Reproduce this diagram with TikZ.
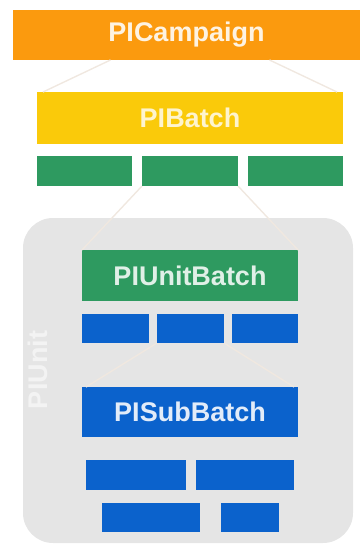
\documentclass[tikz,border=0pt]{standalone}
\usepackage{fontspec}
\setmainfont{Liberation Sans}
\usepackage{tikz}
\usetikzlibrary{arrows,shapes,positioning}
\definecolor{campOrange}{HTML}{FB9A0E}
\definecolor{batchYellow}{HTML}{FACA0A}
\definecolor{unitGreen}{HTML}{2E9A60}
\definecolor{subBlue}{HTML}{0B62CC}
\definecolor{unitGray}{HTML}{E5E5E5}
\definecolor{linkLine}{HTML}{F0E8E0}

\begin{document}
\begin{tikzpicture}[x=1pt,y=-1pt]
            \tikzstyle{every node}+=[inner sep=0pt,outer sep=0pt]
            \tikzstyle{bigbox}=[rectangle,font=\fontsize{27}{27}\selectfont\bfseries]
            \tikzstyle{smallbox}=[rectangle,minimum height=30pt]
            \tikzstyle{link}=[draw=linkLine,line width=1.4pt]
            \useasboundingbox (0,0) rectangle (362,550);
            % outer unit area
            \node (unit) [fill=unitGray,rounded corners=30pt,minimum width=330pt,minimum height=325pt] at (188,380.5) {};
            \node (unitlbl) [rotate=90,text=white!55!unitGray,font=\fontsize{27}{27}\selectfont\bfseries] at (38,370) {PIUnit};
            % campaign and batch
            \node (camp) [bigbox,fill=campOrange,text=white!88!campOrange,minimum width=347pt,minimum height=50pt] at (186.5,35) {PICampaign};
            \node (batch) [bigbox,fill=batchYellow,text=white!80!batchYellow,minimum width=306pt,minimum height=52pt] at (190,118) {PIBatch};
            \node (g1) [smallbox,fill=unitGreen,minimum width=95pt] at (84.5,171) {};
            \node (g2) [smallbox,fill=unitGreen,minimum width=96pt] at (190,171) {};
            \node (g3) [smallbox,fill=unitGreen,minimum width=95pt] at (295.5,171) {};
            % unit batch
            \node (ubatch) [bigbox,fill=unitGreen,text=white!85!unitGreen,minimum width=216pt,minimum height=51pt] at (190,275.5) {PIUnitBatch};
            \node (b1) [smallbox,fill=subBlue,minimum width=67pt,minimum height=29pt] at (115.5,328.5) {};
            \node (b2) [smallbox,fill=subBlue,minimum width=67pt,minimum height=29pt] at (190.5,328.5) {};
            \node (b3) [smallbox,fill=subBlue,minimum width=66pt,minimum height=29pt] at (265,328.5) {};
            % sub batch
            \node (sbatch) [bigbox,fill=subBlue,text=white!88!subBlue,minimum width=216pt,minimum height=50pt] at (190,412) {PISubBatch};
            \node (s1) [smallbox,fill=subBlue,minimum width=100pt] at (136,475) {};
            \node (s2) [smallbox,fill=subBlue,minimum width=98pt] at (245,475) {};
            \node (s3) [smallbox,fill=subBlue,minimum width=98pt,minimum height=29pt] at (151,517.5) {};
            \node (s4) [smallbox,fill=subBlue,minimum width=58pt,minimum height=29pt] at (250,517.5) {};
            % links
            \draw [link] ([xshift=-76pt]camp.south) -- ([xshift=6pt]batch.north west);
            \draw [link] ([xshift=83pt]camp.south) -- ([xshift=-6pt]batch.north east);
            \draw [link] (g2.south west) -- (ubatch.north west);
            \draw [link] (g2.south east) -- (ubatch.north east);
            \draw [link] (b2.south west) -- ([xshift=4pt]sbatch.north west);
            \draw [link] (b2.south east) -- ([xshift=-4pt]sbatch.north east);
\end{tikzpicture}
\end{document}
